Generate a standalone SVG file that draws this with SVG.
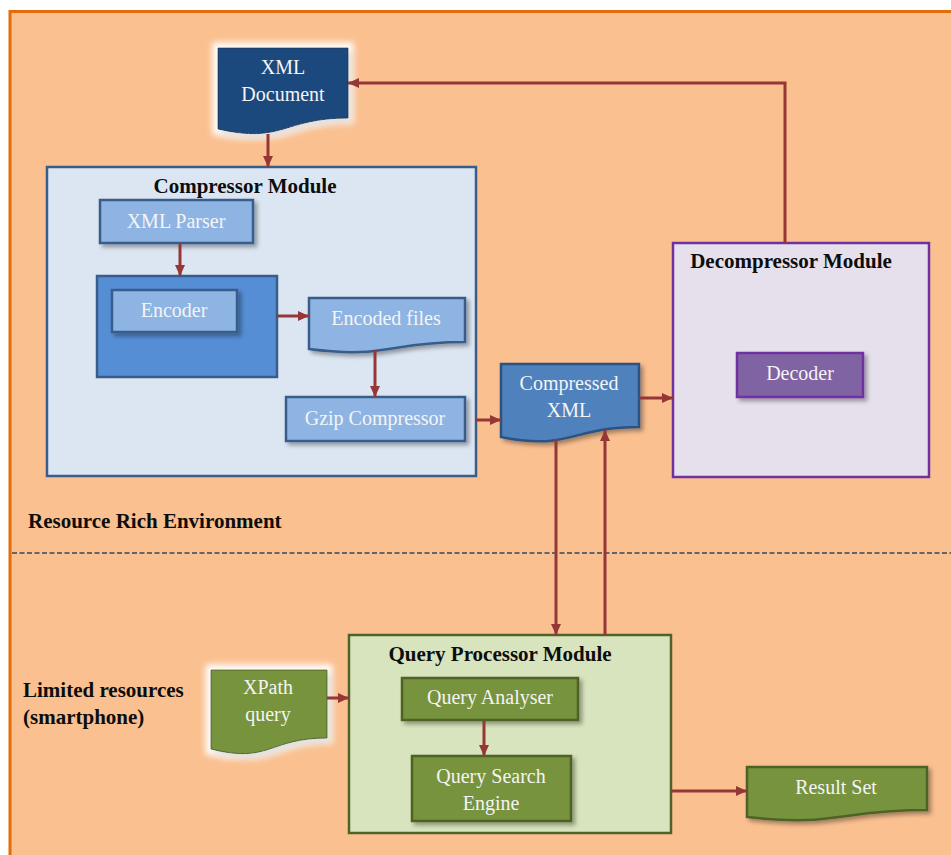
<svg xmlns="http://www.w3.org/2000/svg" width="951" height="855" viewBox="0 0 951 855">
<defs>
<style>
.t{font-family:"Liberation Serif","Times New Roman",serif;font-size:20px;fill:#F4F4F4;text-anchor:middle}
.h{font-family:"Liberation Serif","Times New Roman",serif;font-size:21px;font-weight:bold;fill:#0D0D0D}
.c{fill:none;stroke:#953735;stroke-width:3}
.blue{fill:#8EB4E3;stroke:#385D8A;stroke-width:2.5}
.green{fill:#77933C;stroke:#4F6228;stroke-width:2.5}
</style>
<marker id="ah" markerUnits="userSpaceOnUse" markerWidth="12" markerHeight="12" viewBox="0 0 12 12" refX="11" refY="6" orient="auto">
<path d="M0,1 L11,6 L0,11 Z" fill="#953735"/>
</marker>
<filter id="sh" x="-10%" y="-10%" width="130%" height="140%">
<feDropShadow dx="3" dy="3" stdDeviation="2" flood-color="#000" flood-opacity="0.35"/>
</filter>
<filter id="glow" x="-20%" y="-20%" width="140%" height="150%">
<feMorphology in="SourceAlpha" operator="dilate" radius="5" result="d"/>
<feGaussianBlur in="d" stdDeviation="3" result="b"/>
<feFlood flood-color="#FFFFFF"/>
<feComposite in2="b" operator="in" result="g"/>
<feOffset in="SourceAlpha" dx="3" dy="4" result="o"/>
<feGaussianBlur in="o" stdDeviation="3" result="ob"/>
<feFlood flood-color="#000" flood-opacity="0.25"/>
<feComposite in2="ob" operator="in" result="s"/>
<feMerge><feMergeNode in="g"/><feMergeNode in="s"/><feMergeNode in="SourceGraphic"/></feMerge>
</filter>
</defs>
<rect x="0" y="0" width="951" height="855" fill="#FFFFFF"/>
<rect id="frame" x="10" y="11.5" width="960" height="860" fill="#FAC090" stroke="#E46C0A" stroke-width="3"/>
<line id="divider" x1="12" y1="553" x2="951" y2="553" stroke="#666666" stroke-width="2" stroke-dasharray="5,2.5"/>

<g id="env-rich"><text class="h" x="28" y="528">Resource Rich Environment</text></g>
<g id="env-limited"><text class="h" x="23" y="697">Limited resources</text><text class="h" x="23" y="724">(smartphone)</text></g>

<g id="xml-document">
<path d="M218,48 H348 V118 C283,118 283,144 218,129 Z" fill="#1F497D" stroke="#1F3A60" stroke-width="1" filter="url(#glow)"/>
<text class="t" x="283" y="74">XML</text>
<text class="t" x="283" y="101">Document</text>
</g>

<g id="compressor-module">
<rect x="47" y="167" width="429" height="309" fill="#DCE6F2" stroke="#385D8A" stroke-width="2.5"/>
<text class="h" x="245" y="193" text-anchor="middle">Compressor Module</text>
</g>
<g id="xml-parser">
<rect class="blue" x="100" y="200" width="153" height="43" filter="url(#sh)"/>
<text class="t" x="176" y="228">XML Parser</text>
</g>
<g id="encoder-container">
<rect x="97" y="276" width="180" height="101" fill="#558ED5" stroke="#385D8A" stroke-width="2.5"/>
</g>
<g id="encoder">
<rect class="blue" x="112" y="290" width="125" height="42" filter="url(#sh)"/>
<text class="t" x="174" y="317">Encoder</text>
</g>
<g id="encoded-files">
<path class="blue" d="M309,298 H465 V342 C387,342 387,359 309,349 Z" filter="url(#sh)"/>
<text class="t" x="386" y="325">Encoded files</text>
</g>
<g id="gzip-compressor">
<rect class="blue" x="286" y="397" width="179" height="44" filter="url(#sh)"/>
<text class="t" x="375" y="425">Gzip Compressor</text>
</g>

<g id="compressed-xml">
<path d="M501,364 H639 V427 C570,427 570,451 501,437 Z" fill="#4F81BD" stroke="#2C5282" stroke-width="2.5" filter="url(#sh)"/>
<text class="t" x="569" y="390">Compressed</text>
<text class="t" x="569" y="417">XML</text>
</g>

<g id="decompressor-module">
<rect x="673" y="243" width="256" height="234" fill="#E6E0EC" stroke="#7030A0" stroke-width="2.5"/>
<text class="h" x="791" y="268" text-anchor="middle">Decompressor Module</text>
</g>
<g id="decoder">
<rect x="737" y="353" width="126" height="44" fill="#8064A2" stroke="#7030A0" stroke-width="2.5" filter="url(#sh)"/>
<text class="t" x="800" y="380">Decoder</text>
</g>

<g id="query-processor-module">
<rect x="349" y="635" width="322" height="198" fill="#D7E4BD" stroke="#4F6228" stroke-width="2.5"/>
<text class="h" x="500" y="661" text-anchor="middle">Query Processor Module</text>
</g>
<g id="query-analyser">
<rect class="green" x="402" y="678" width="176" height="42" filter="url(#sh)"/>
<text class="t" x="490" y="704">Query Analyser</text>
</g>
<g id="query-search-engine">
<rect class="green" x="412" y="756" width="159" height="65" filter="url(#sh)"/>
<text class="t" x="491" y="783">Query Search</text>
<text class="t" x="491" y="810">Engine</text>
</g>
<g id="xpath-query">
<path d="M211,670 H327 V738 C269,738 269,764 211,749 Z" fill="#77933C" stroke="#4F6228" stroke-width="1" filter="url(#glow)"/>
<text class="t" x="268" y="694">XPath</text>
<text class="t" x="268" y="721">query</text>
</g>
<g id="result-set">
<path class="green" d="M747,767 H927 V810 C837,810 837,827 747,817 Z" filter="url(#sh)"/>
<text class="t" x="836" y="794">Result Set</text>
</g>

<g id="connectors">
<path class="c" d="M268,134 V167" marker-end="url(#ah)"/>
<path class="c" d="M180,243 V276" marker-end="url(#ah)"/>
<path class="c" d="M277,316 H309" marker-end="url(#ah)"/>
<path class="c" d="M375,350 V397" marker-end="url(#ah)"/>
<path class="c" d="M476,420 H501" marker-end="url(#ah)"/>
<path class="c" d="M639,398 H673" marker-end="url(#ah)"/>
<path class="c" d="M785,243 V83 H348" marker-end="url(#ah)"/>
<path class="c" d="M556,439 V635" marker-end="url(#ah)"/>
<path class="c" d="M605,635 V430" marker-end="url(#ah)"/>
<path class="c" d="M327,698 H349" marker-end="url(#ah)"/>
<path class="c" d="M484,721 V756" marker-end="url(#ah)"/>
<path class="c" d="M671,791 H747" marker-end="url(#ah)"/>
</g>
</svg>
